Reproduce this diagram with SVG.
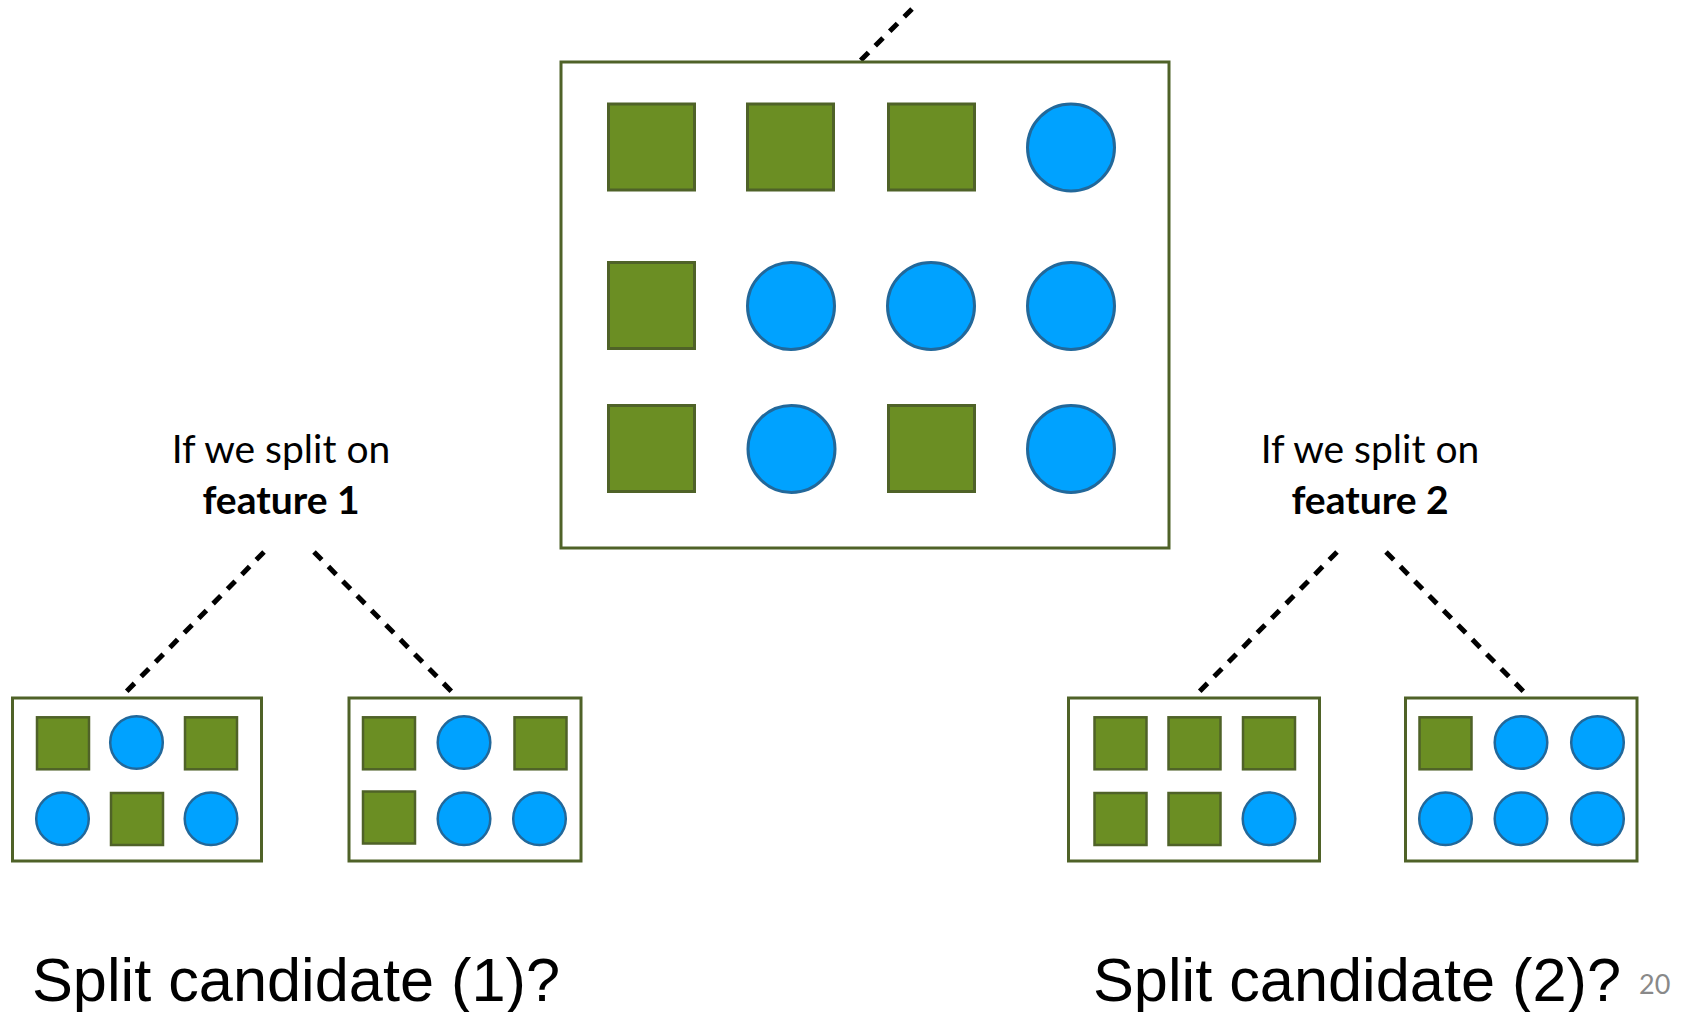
<svg xmlns="http://www.w3.org/2000/svg" width="1684" height="1012" viewBox="0 0 1684 1012">
<defs>
<style>
.box{fill:#fff;stroke:#4F6228;stroke-width:3}
.sq{fill:#6B8E23;stroke:#4F6228;stroke-width:3}
.ci{fill:#00A2FF;stroke:#22689A;stroke-width:3}
.ssq{fill:#6B8E23;stroke:#4F6228;stroke-width:2.5}
.sci{fill:#00A2FF;stroke:#22689A;stroke-width:2.5}
.dash{stroke:#000;stroke-width:5;stroke-dasharray:11 9.5;fill:none}
.lbl{font-family:Lato,"Open Sans",sans-serif;font-size:39px;text-anchor:middle;fill:#000}
.b{font-weight:bold}
.big{font-family:"Liberation Sans",Arial,sans-serif;font-size:62px;fill:#000}
</style>
</defs>
<rect width="1684" height="1012" fill="#fff"/>
<g id="connectors">
<line class="dash" x1="912" y1="9" x2="859" y2="62"/>
<line class="dash" x1="264" y1="552" x2="123" y2="695"/>
<line class="dash" x1="314" y1="552" x2="455" y2="695"/>
<line class="dash" x1="1337" y1="552" x2="1196" y2="695"/>
<line class="dash" x1="1386" y1="552" x2="1527" y2="695"/>
</g>
<g id="root">
<rect class="box" x="561" y="62" width="608" height="486"/>
<rect class="sq" x="608.5" y="104" width="86" height="86"/>
<rect class="sq" x="747.5" y="104" width="86" height="86"/>
<rect class="sq" x="888.5" y="104" width="86" height="86"/>
<circle class="ci" cx="1071" cy="147.5" r="43.5"/>
<rect class="sq" x="608.5" y="262.5" width="86" height="86"/>
<circle class="ci" cx="791" cy="306" r="43.5"/>
<circle class="ci" cx="931" cy="306" r="43.5"/>
<circle class="ci" cx="1071" cy="306" r="43.5"/>
<rect class="sq" x="608.5" y="405.5" width="86" height="86"/>
<circle class="ci" cx="791.5" cy="449" r="43.5"/>
<rect class="sq" x="888.5" y="405.5" width="86" height="86"/>
<circle class="ci" cx="1071" cy="449" r="43.5"/>
</g>
<g id="label1">
<text class="lbl" x="281" y="463">If we split on</text>
<text class="lbl b" x="281" y="514">feature 1</text>
</g>
<g id="label2">
<text class="lbl" x="1370" y="463">If we split on</text>
<text class="lbl b" x="1370" y="514">feature 2</text>
</g>
<g id="leaf1">
<rect class="box" x="12.5" y="698" width="249" height="163"/>
<rect class="ssq" x="37" y="717.3" width="52" height="52"/>
<circle class="sci" cx="136.5" cy="742.5" r="26.3"/>
<rect class="ssq" x="185" y="717.3" width="52" height="52"/>
<circle class="sci" cx="62.5" cy="818.7" r="26.3"/>
<rect class="ssq" x="111" y="793" width="52" height="52"/>
<circle class="sci" cx="211" cy="818.7" r="26.3"/>
</g>
<g id="leaf2">
<rect class="box" x="349" y="698" width="232" height="163"/>
<rect class="ssq" x="363" y="717.3" width="52" height="52"/>
<circle class="sci" cx="464" cy="742.5" r="26.3"/>
<rect class="ssq" x="514.5" y="717.3" width="52" height="52"/>
<rect class="ssq" x="363" y="791.5" width="52" height="52"/>
<circle class="sci" cx="464" cy="818.7" r="26.3"/>
<circle class="sci" cx="539.5" cy="818.7" r="26.3"/>
</g>
<g id="leaf3">
<rect class="box" x="1068.5" y="698" width="251" height="163"/>
<rect class="ssq" x="1094.5" y="717.3" width="52" height="52"/>
<rect class="ssq" x="1168.5" y="717.3" width="52" height="52"/>
<rect class="ssq" x="1243" y="717.3" width="52" height="52"/>
<rect class="ssq" x="1094.5" y="793" width="52" height="52"/>
<rect class="ssq" x="1168.5" y="793" width="52" height="52"/>
<circle class="sci" cx="1269" cy="818.7" r="26.3"/>
</g>
<g id="leaf4">
<rect class="box" x="1405.5" y="698" width="231.5" height="163"/>
<rect class="ssq" x="1419.5" y="717.3" width="52" height="52"/>
<circle class="sci" cx="1521" cy="742.5" r="26.3"/>
<circle class="sci" cx="1597.5" cy="742.5" r="26.3"/>
<circle class="sci" cx="1445.5" cy="818.7" r="26.3"/>
<circle class="sci" cx="1521" cy="818.7" r="26.3"/>
<circle class="sci" cx="1597.5" cy="818.7" r="26.3"/>
</g>
<g id="captions">
<text class="big" x="32" y="1000.5" textLength="528" lengthAdjust="spacingAndGlyphs">Split candidate (1)?</text>
<text class="big" x="1093" y="1000.5" textLength="528" lengthAdjust="spacingAndGlyphs">Split candidate (2)?</text>
<text x="1639" y="994" font-family="Lato,'Open Sans',sans-serif" font-size="27" fill="#898989">20</text>
</g>
</svg>
